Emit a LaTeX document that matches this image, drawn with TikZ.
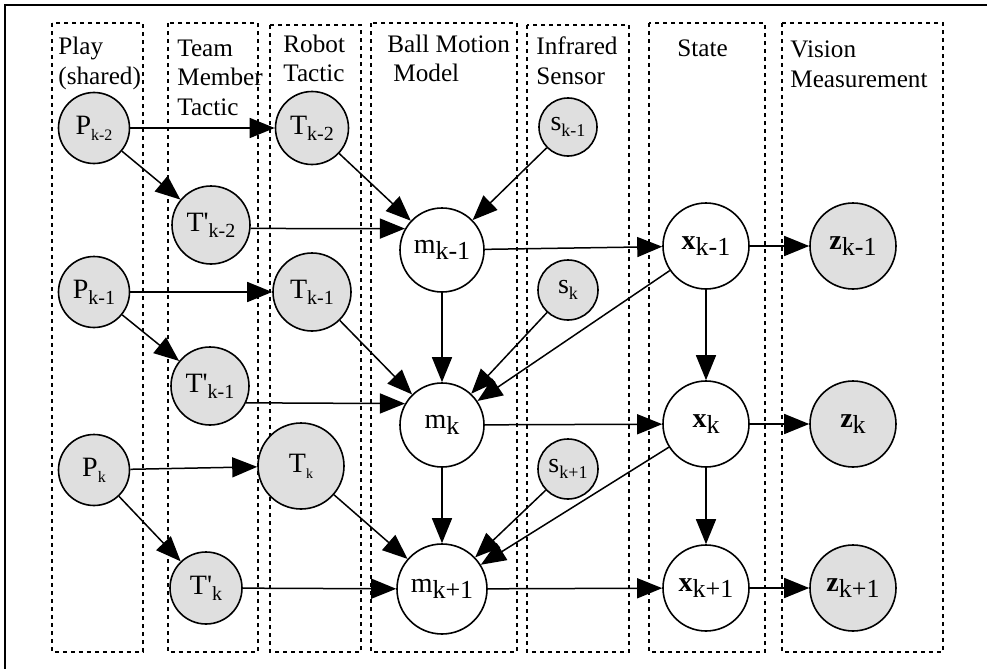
\documentclass[tikz,border=0pt]{standalone}
\usepackage{fontspec}
\setmainfont{Liberation Serif}
\usetikzlibrary{arrows.meta}
\definecolor{obsgray}{gray}{0.875}
\newcommand{\sub}[2][9]{\raisebox{-0.45ex}{\fontsize{#1}{#1}\selectfont #2}}

\begin{document}
\begin{tikzpicture}[
  x=0.5pt, y=-0.5pt,
  lane/.style={draw, dash pattern=on 2pt off 2pt, line width=0.75pt},
  head/.style={anchor=base west, align=left, inner sep=0pt,
               font=\fontsize{12.6}{14.75}\selectfont},
  var/.style={circle, draw, line width=0.8pt, inner sep=0pt,
              font=\fontsize{14}{16}\selectfont},
  obs/.style={var, fill=obsgray},
  edge/.style={-{Triangle[length=12.5pt,width=10pt]}, line width=0.75pt}
]
\useasboundingbox (0,0) rectangle (987,669);
\draw[line width=1.3pt] (5,5) rectangle (1010,700);

% columns
\draw[lane] (52,23) rectangle (143,652);
\draw[lane] (168,23) rectangle (258,652);
\draw[lane] (270,25) rectangle (361,652);
\draw[lane] (371,23) rectangle (517,652);
\draw[lane] (527,25) rectangle (629,652);
\draw[lane] (649,23) rectangle (765,652);
\draw[lane] (782,23) rectangle (943,652);

% headers (base = last line)
\node[head] (hplay) at (58,84) {Play\\(shared)};
\node[head] (hteam) at (177,115) {Team\\Member\\Tactic};
\node[head] (hrobot) at (283,82) {Robot\\Tactic};
\node[head] (hball) at (387,82) {Ball Motion\\\hspace{3pt}Model};
\node[head] (hir) at (536,84) {Infrared\\Sensor};
\node[head] (hstate) at (677,56) {State};
\node[head] (hvis) at (790,87) {Vision\\Measurement};

% play and tactics
\node[obs, minimum size=35.5pt] (P2) at (94,128) {P\sub[8]{k-2}};
\node[obs, minimum size=35.5pt] (P1) at (94,292) {P\sub[10]{k-1}};
\node[obs, minimum size=35.5pt] (P0) at (94,470) {P\sub[8]{k}};
\node[obs, minimum size=39pt] (Tp2) at (211,225) {T\textquotesingle\sub[10]{k-2}};
\node[obs, minimum size=39pt] (Tp1) at (210,386) {T\textquotesingle\sub[10]{k-1}};
\node[obs, minimum size=36pt] (Tp0) at (206,588) {T\textquotesingle\sub[10]{k}};
\node[obs, minimum size=36.5pt] (T2) at (312,128) {T\sub[10]{k-2}};
\node[obs, minimum size=39pt] (T1) at (312,292) {T\sub[10]{k-1}};
\node[obs, minimum size=43pt] (T0) at (301,466) {T\sub[7]{k}};

% ball model, sensor, state, vision
\node[var, minimum size=42pt] (m1) at (442,250) {m\sub[13]{k-1}};
\node[var, minimum size=42pt] (m0) at (442,425) {m\sub[13]{k}};
\node[var, minimum size=45pt] (mn) at (442,589) {m\sub[13]{k+1}};
\node[obs, minimum size=29pt] (s1) at (568,127) {s\sub[9]{k-1}};
\node[obs, minimum size=30pt] (s0) at (568,290) {s\sub[9]{k}};
\node[obs, minimum size=30pt] (sn) at (568,469) {s\sub[9]{k+1}};
\node[var, minimum size=43pt] (x1) at (706,246) {\textbf{x}\sub[13]{k-1}};
\node[var, minimum size=43pt] (x0) at (706,424) {\textbf{x}\sub[13]{k}};
\node[var, minimum size=43pt] (xn) at (706,588) {\textbf{x}\sub[13]{k+1}};
\node[obs, minimum size=43pt] (z1) at (853,246) {\textbf{z}\sub[13]{k-1}};
\node[obs, minimum size=43pt] (z0) at (853,424) {\textbf{z}\sub[13]{k}};
\node[obs, minimum size=43pt] (zn) at (853,588) {\textbf{z}\sub[13]{k+1}};

\draw[edge] (P2) -- (T2);
\draw[edge] (P2) -- (Tp2);
\draw[edge] (P1) -- (T1);
\draw[edge] (P1) -- (Tp1);
\draw[edge] (P0) -- (T0);
\draw[edge] (P0) -- (Tp0);
\draw[edge] (T2) -- (m1);
\draw[edge] (Tp2.-5) -- (m1.150);
\draw[edge] (T1) -- (m0);
\draw[edge] (Tp1.-25) -- (m0.150);
\draw[edge] (T0) -- (mn);
\draw[edge] (Tp0) -- (mn);
\draw[edge] (s1) -- (m1);
\draw[edge] (s0) -- (m0);
\draw[edge] (sn) -- (mn);
\draw[edge] (m1) -- (m0);
\draw[edge] (m0) -- (mn);
\draw[edge] (m1) -- (x1);
\draw[edge] (m0) -- (x0);
\draw[edge] (mn) -- (xn);
\draw[edge] (x1) -- (m0);
\draw[edge] (x0) -- (mn);
\draw[edge] (x1) -- (x0);
\draw[edge] (x0) -- (xn);
\draw[edge] (x1) -- (z1);
\draw[edge] (x0) -- (z0);
\draw[edge] (xn) -- (zn);
\end{tikzpicture}
\end{document}
